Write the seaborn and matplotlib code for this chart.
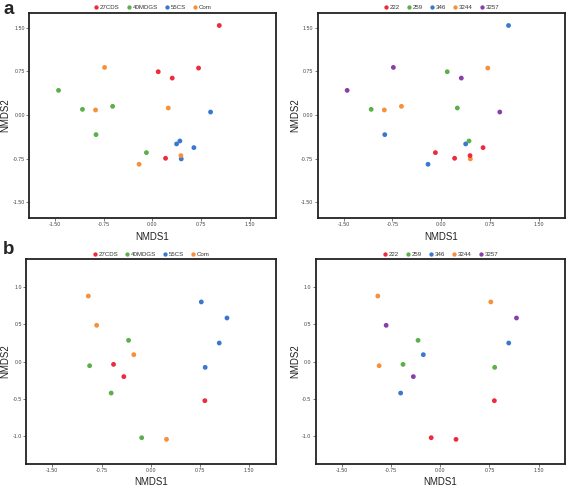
import numpy as np
import pandas as pd
import matplotlib
matplotlib.use("Agg")
import matplotlib.pyplot as plt
import seaborn as sns

# ---- data: panel a ----
a_x = [1.033, 0.092, 0.308, 0.714, 0.205, -1.445, -1.076, -0.611, -0.867, -0.090,
       0.899, 0.426, 0.375, 0.642, 0.447, -0.735, -0.874, 0.247, 0.442, -0.203]
a_y = [1.537, 0.743, 0.634, 0.806, -0.743, 0.423, 0.097, 0.149, -0.337, -0.646,
       0.051, -0.446, -0.497, -0.560, -0.754, 0.817, 0.086, 0.120, -0.697, -0.846]
a_group = ["27CDS"] * 5 + ["40MDGS"] * 5 + ["55CS"] * 5 + ["Com"] * 5
a_site = ["346", "259", "3257", "3244", "222",
          "3257", "259", "3244", "346", "222",
          "3257", "259", "346", "222", "3244",
          "3257", "3244", "259", "222", "346"]

# ---- data: panel b ----
b_x = [-0.951, -0.824, -0.258, 0.240, -0.338, -0.931, -0.603, -0.138,
       -0.567, -0.410, 0.824, 0.770, 1.161, 1.043, 0.829]
b_y = [0.879, 0.487, 0.094, -1.040, 0.286, -0.054, -0.420, -1.018,
       -0.036, -0.200, -0.522, 0.800, 0.585, 0.250, -0.076]
b_group = ["Com"] * 4 + ["40MDGS"] * 4 + ["27CDS"] * 3 + ["55CS"] * 4
b_site = ["3244", "3257", "346", "222",
          "259", "3244", "346", "222",
          "259", "3257", "222",
          "3244", "3257", "346", "259"]

group_order = ["27CDS", "40MDGS", "55CS", "Com"]
site_order = ["222", "259", "346", "3244", "3257"]
x_ticks = [-1.50, -0.75, 0.00, 0.75, 1.50]
a_yticks = [-1.50, -0.75, 0.00, 0.75, 1.50]
b_yticks = [-1.0, -0.5, 0.0, 0.5, 1.0]

red, green, blue, orange, purple = "#EE2A3B", "#5BB04A", "#3A78D0", "#F7903A", "#8A3FA8"
group_pal = dict(zip(group_order, [red, green, blue, orange]))
site_pal = dict(zip(site_order, [red, green, blue, orange, purple]))

df_a = pd.DataFrame({"NMDS1": a_x, "NMDS2": a_y, "group": a_group, "site": a_site})
df_b = pd.DataFrame({"NMDS1": b_x, "NMDS2": b_y, "group": b_group, "site": b_site})

sns.set_theme(style="white")
plt.rcParams["font.family"] = ["Liberation Sans", "DejaVu Sans"]

fig = plt.figure(figsize=(5.67, 4.88), dpi=100)

W, H = 567, 488
def rect(l, r, t, b):
    return [l / W, 1 - b / H, (r - l) / W, (b - t) / H]

axes_specs = [
    (rect(29, 275.5, 12.5, 217.5), df_a, "group", group_order, group_pal, a_yticks, (-1.76, 1.76), "{:.2f}", -0.097, -0.095),
    (rect(317.5, 565, 12.5, 217.5), df_a, "site", site_order, site_pal, a_yticks, (-1.76, 1.76), "{:.2f}", -0.089, -0.095),
    (rect(26, 275.5, 259, 464), df_b, "group", group_order, group_pal, b_yticks, (-1.37, 1.375), "{:.1f}", -0.084, -0.088),
    (rect(315.5, 565, 259, 464), df_b, "site", site_order, site_pal, b_yticks, (-1.37, 1.375), "{:.1f}", -0.083, -0.088),
]

for pos, df, hue, order, pal, yt, ylim, fmt, ylx, xly in axes_specs:
    ax = fig.add_axes(pos)
    sns.scatterplot(data=df, x="NMDS1", y="NMDS2", hue=hue, hue_order=order,
                    palette=pal, s=12, linewidth=0, ax=ax, legend=True)
    ax.set_xlim(-1.9, 1.9)
    ax.set_ylim(*ylim)
    ax.set_xticks(x_ticks)
    ax.set_xticklabels(["{:.2f}".format(v) for v in x_ticks])
    ax.set_yticks(yt)
    ax.set_yticklabels([fmt.format(v) for v in yt])
    ax.tick_params(axis="both", which="both", length=2, width=0.5, pad=1,
                   labelsize=3.8, colors="#444444", bottom=True, left=True)
    for sp in ax.spines.values():
        sp.set_visible(True)
        sp.set_color("#222222")
        sp.set_linewidth(1.3)
    ax.set_xlabel("NMDS1", fontsize=7.0, color="#222222")
    ax.set_ylabel("NMDS2", fontsize=7.0, color="#222222")
    ax.yaxis.set_label_coords(ylx, 0.5)
    ax.xaxis.set_label_coords(0.5, xly)
    ax.xaxis.label.set_va("center")
    ax.yaxis.label.set_va("center")
    leg = ax.legend(loc="lower center", bbox_to_anchor=(0.5, 0.995), ncol=len(order),
                    frameon=False, fontsize=4.4, handletextpad=0.1, columnspacing=1.0,
                    markerscale=0.9, borderaxespad=0.1, handlelength=1.0)
    for t in leg.get_texts():
        t.set_color("#333333")

fig.text(4 / W, 1 - 0.5 / H, "a", fontsize=13.5, fontweight="bold", ha="left", va="top")
fig.text(3 / W, 1 - 240.5 / H, "b", fontsize=13.5, fontweight="bold", ha="left", va="top")

fig.savefig("out.png", dpi=100)
